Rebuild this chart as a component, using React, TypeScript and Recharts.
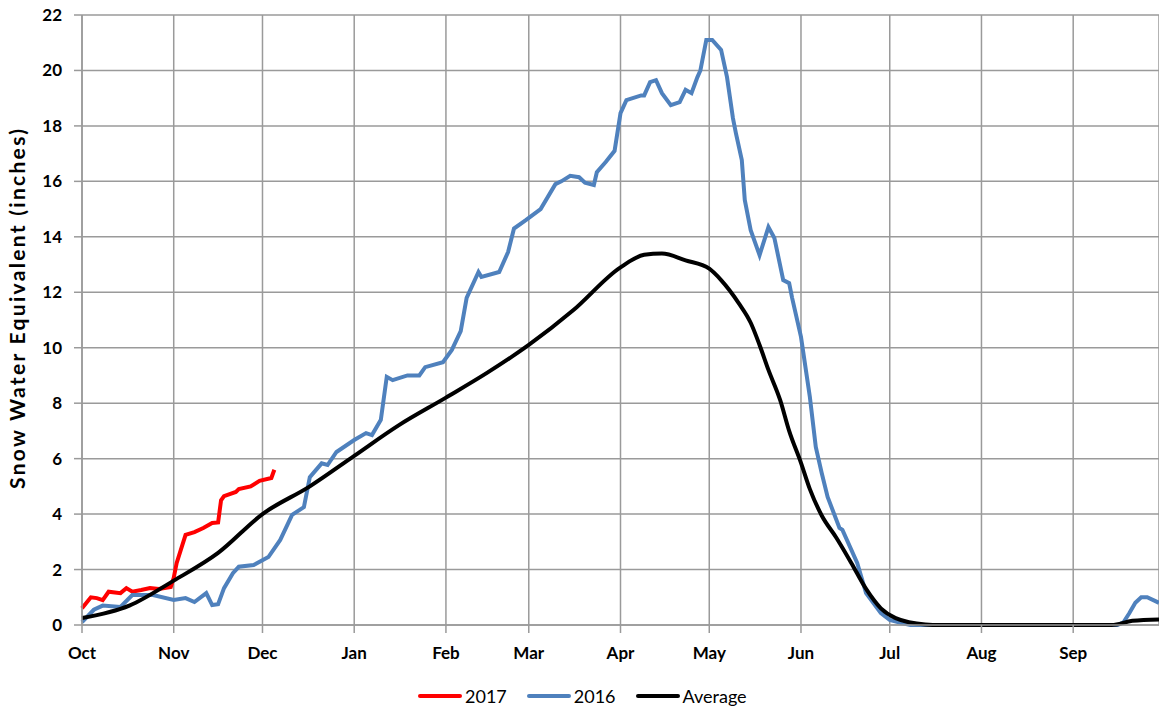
import { LineChart, Line, XAxis, YAxis, CartesianGrid } from "recharts";

// x = day of water year (0 = Oct 1)
const monthTicks = [0, 31, 61, 92, 123, 151, 182, 212, 243, 273, 304, 335];
const monthLabels = ["Oct", "Nov", "Dec", "Jan", "Feb", "Mar", "Apr", "May", "Jun", "Jul", "Aug", "Sep"];
const yTicks = [0, 2, 4, 6, 8, 10, 12, 14, 16, 18, 20, 22];

const days2017 = [0, 3, 5, 7, 9, 13, 15, 17, 20, 23, 26, 30, 31, 32, 35, 38, 41, 44, 46, 47, 48, 52, 53, 57, 60, 64, 65];
const swe2017 = [0.6, 1.0, 0.97, 0.9, 1.2, 1.15, 1.33, 1.2, 1.26, 1.33, 1.3, 1.37, 1.7, 2.24, 3.25, 3.35, 3.5, 3.68, 3.7, 4.5, 4.65, 4.8, 4.9, 5.0, 5.2, 5.3, 5.6];

const days2016 = [
  0, 4, 7, 13, 17, 24, 31, 35, 38, 42, 44, 46, 48, 51, 53, 58, 63, 67, 71, 75, 77, 81, 83, 86, 92, 96, 98, 101,
  103, 105, 110, 114, 116, 122, 125, 128, 130, 134, 135, 141, 144, 146, 150, 155, 160, 162, 165, 168, 170, 173,
  174, 177, 180, 182, 184, 189, 190, 192, 194, 196, 199, 202, 204, 206, 208, 209, 211, 213, 216, 218, 220, 221,
  223, 224, 226, 229, 232, 234, 237, 239, 240, 243, 246, 248, 250, 252, 256, 257, 262, 265, 270, 273, 277, 280,
  350, 352, 354, 356, 358, 360, 364,
];
const swe2016 = [
  0.1, 0.55, 0.7, 0.65, 1.08, 1.08, 0.9, 0.97, 0.83, 1.15, 0.72, 0.75, 1.33, 1.87, 2.1, 2.16, 2.45, 3.07, 3.97,
  4.25, 5.33, 5.83, 5.77, 6.24, 6.67, 6.92, 6.85, 7.4, 8.95, 8.83, 9.0, 9.0, 9.3, 9.48, 9.92, 10.6, 11.8, 12.73,
  12.55, 12.73, 13.45, 14.3, 14.6, 15.0, 15.9, 16.0, 16.2, 16.15, 15.95, 15.87, 16.33, 16.7, 17.1, 18.46, 18.93,
  19.1, 19.1, 19.58, 19.65, 19.18, 18.75, 18.86, 19.3, 19.18, 19.76, 20.0, 21.1, 21.1, 20.74, 19.76, 18.28, 17.74,
  16.77, 15.33, 14.24, 13.34, 14.35, 13.96, 12.44, 12.33, 11.8, 10.39, 8.22, 6.42, 5.48, 4.62, 3.5, 3.43, 2.24,
  1.15, 0.43, 0.18, 0.07, 0, 0, 0.1, 0.43, 0.8, 1.0, 1.0, 0.8,
];

const daysAvg = [
  0, 16, 31, 46, 61, 77, 92, 107, 123, 137, 151, 166, 182, 190, 196, 204, 212, 216, 222, 226, 229, 232, 236, 239,
  243, 246, 250, 255, 260, 265, 270, 275, 285, 290, 348, 355, 364,
];
const sweAvg = [
  0.25, 0.7, 1.6, 2.6, 4.0, 5.0, 6.1, 7.2, 8.2, 9.1, 10.1, 11.35, 12.9, 13.35, 13.4, 13.15, 12.85, 12.44, 11.6,
  10.9, 10.1, 9.2, 8.1, 7.0, 5.85, 4.9, 3.95, 3.14, 2.24, 1.3, 0.6, 0.25, 0.02, 0, 0, 0.15, 0.2,
];

const toRows = (days: number[], vals: number[]) => days.map((d, i) => ({ day: d, swe: vals[i] }));

const series = [
  { name: "2017", color: "#FF0000", data: toRows(days2017, swe2017), curve: "linear" },
  { name: "2016", color: "#4F81BD", data: toRows(days2016, swe2016), curve: "linear" },
  { name: "Average", color: "#000000", data: toRows(daysAvg, sweAvg), curve: "monotone" },
];

const font = "Lato, 'Open Sans', sans-serif";
const gridColor = "#9a9a9a";

function LegendBox() {
  return (
    <div
      style={{
        position: "absolute",
        left: 418,
        top: 684,
        height: 24,
        display: "flex",
        alignItems: "center",
        fontFamily: font,
        fontSize: 18,
        color: "#000",
      }}
    >
      {series.map((s) => (
        <div key={s.name} style={{ display: "flex", alignItems: "center", marginRight: 20 }}>
          <div style={{ width: 44, height: 4, background: s.color, borderRadius: 2, marginRight: 3 }} />
          <span>{s.name}</span>
        </div>
      ))}
    </div>
  );
}

export default function App() {
  return (
    <div style={{ position: "fixed", left: 0, top: 0, width: 1159, height: 711, background: "#fff" }}>
      <LineChart width={1159} height={711} margin={{ top: 15, right: 0, bottom: 46, left: 0 }}>
        <CartesianGrid stroke={gridColor} strokeWidth={1.5} />
        <XAxis
          type="number"
          dataKey="day"
          domain={[0, 364]}
          ticks={monthTicks}
          tickFormatter={(v) => monthLabels[monthTicks.indexOf(v)] ?? ""}
          allowDuplicatedCategory={false}
          height={40}
          tickSize={8}
          tickMargin={14}
          stroke={gridColor}
          strokeWidth={1.5}
          tick={{ fill: "#000", fontFamily: font, fontWeight: 700, fontSize: 17 }}
        />
        <YAxis
          type="number"
          domain={[0, 22]}
          ticks={yTicks}
          width={82}
          tickSize={8}
          tickMargin={12}
          stroke={gridColor}
          strokeWidth={1.5}
          tick={{ fill: "#000", fontFamily: font, fontWeight: 700, fontSize: 17 }}
          label={{
            content: () => (
              <text
                x={25}
                y={309}
                transform="rotate(-90 25 309)"
                textAnchor="middle"
                fontFamily={font}
                fontWeight={700}
                fontSize={21}
                textLength={360}
                lengthAdjust="spacing"
                fill="#000"
              >
                Snow Water Equivalent  (inches)
              </text>
            ),
          }}
        />
        {series.map((s) => (
          <Line
            key={s.name}
            data={s.data}
            dataKey="swe"
            name={s.name}
            type={s.curve as any}
            stroke={s.color}
            strokeWidth={4}
            dot={false}
            isAnimationActive={false}
          />
        ))}
      </LineChart>
      <LegendBox />
    </div>
  );
}
